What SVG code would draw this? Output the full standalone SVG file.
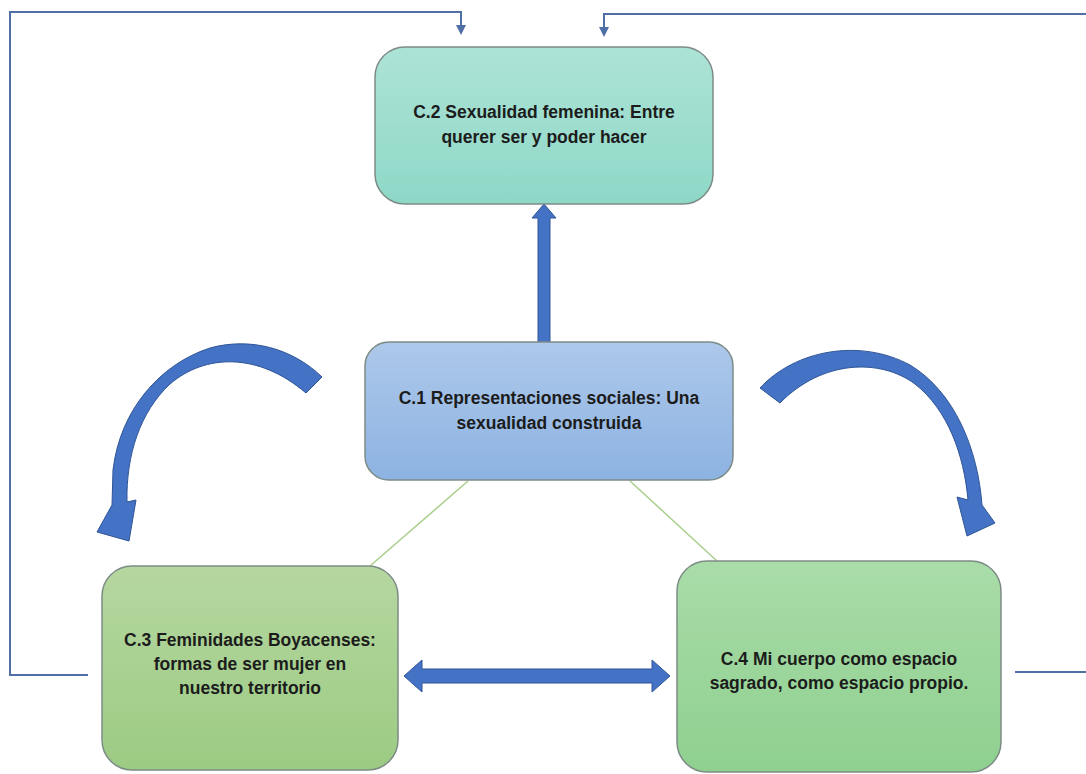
<svg xmlns="http://www.w3.org/2000/svg" width="1086" height="774" viewBox="0 0 1086 774">
  <style>
    .box { stroke: #7d8b86; stroke-width: 1.5; }
    .lbl { font-family: "Liberation Sans", Arial, sans-serif; font-weight: bold; font-size: 17.5px; fill: #1c1c1c; text-anchor: middle; }
    .loop { fill: none; stroke: #4f6fa6; stroke-width: 2; }
    .green { fill: none; stroke: #a9cf8c; stroke-width: 1.5; }
    .blue { fill: #4472c4; stroke: #2f5597; stroke-width: 1; }
  </style>
  <defs>
    <linearGradient id="gTeal" x1="0" y1="0" x2="0" y2="1">
      <stop offset="0" stop-color="#ade3d7"/>
      <stop offset="1" stop-color="#8ed8c7"/>
    </linearGradient>
    <linearGradient id="gBlue" x1="0" y1="0" x2="0" y2="1">
      <stop offset="0" stop-color="#adc8ea"/>
      <stop offset="1" stop-color="#8db3e2"/>
    </linearGradient>
    <linearGradient id="gOlive" x1="0" y1="0" x2="0" y2="1">
      <stop offset="0" stop-color="#b5d7a0"/>
      <stop offset="1" stop-color="#9ccb83"/>
    </linearGradient>
    <linearGradient id="gGreen" x1="0" y1="0" x2="0" y2="1">
      <stop offset="0" stop-color="#a9dca9"/>
      <stop offset="1" stop-color="#8fd08f"/>
    </linearGradient>
    <marker id="ah" markerWidth="10" markerHeight="10" refX="5" refY="5" orient="auto" markerUnits="userSpaceOnUse">
      <path d="M0,0 L10,5 L0,10 Z" fill="#4f6fa6"/>
    </marker>
  </defs>

  <rect width="1086" height="774" fill="#ffffff"/>

  <g id="connectors">
    <polyline class="loop" points="88,675 10,675 10,12 461,12 461,30" marker-end="url(#ah)"/>
    <polyline class="loop" points="1015,672 1088,672"/>
    <polyline class="loop" points="1088,14 604,14 604,32" marker-end="url(#ah)"/>
    <line class="green" x1="468" y1="481" x2="370" y2="566"/>
    <line class="green" x1="630" y1="481" x2="717" y2="561"/>
    <path class="blue" d="M538,343 L538,218 L532,218 L544,204 L556,218 L550,218 L550,343 Z"/>
    <path class="blue" d="M404,676 L422,660 L422,669 L652,669 L652,660 L670,676 L652,692 L652,683 L422,683 L422,692 Z"/>
    <path class="blue" d="M322,377 C292,348 250,337 210,348 C160,364 120,410 113,470 L112,505 L97,532 L129,541 L136,500 L127,502 C126,455 140,412 170,384 C205,354 258,352 306,393 Z"/>
    <path class="blue" d="M760,388 C795,350 860,338 910,365 C955,392 978,450 982,505 L995,523 L967,536 L957,497 L968,500 C964,455 948,410 915,384 C880,358 822,360 780,403 Z"/>
  </g>

  <g id="node-c2">
    <rect class="box" x="375" y="47" width="338" height="157" rx="30" ry="30" fill="url(#gTeal)"/>
    <text class="lbl" x="544" y="118">C.2 Sexualidad femenina: Entre</text>
    <text class="lbl" x="544" y="143">querer ser y poder hacer</text>
  </g>

  <g id="node-c1">
    <rect class="box" x="365" y="342" width="368" height="138" rx="24" ry="24" fill="url(#gBlue)"/>
    <text class="lbl" x="549" y="404">C.1 Representaciones sociales: Una</text>
    <text class="lbl" x="549" y="429">sexualidad construida</text>
  </g>

  <g id="node-c3">
    <rect class="box" x="102" y="566" width="296" height="204" rx="30" ry="30" fill="url(#gOlive)"/>
    <text class="lbl" x="250" y="646">C.3 Feminidades Boyacenses:</text>
    <text class="lbl" x="250" y="670">formas de ser mujer en</text>
    <text class="lbl" x="250" y="694">nuestro territorio</text>
  </g>

  <g id="node-c4">
    <rect class="box" x="677" y="561" width="324" height="211" rx="30" ry="30" fill="url(#gGreen)"/>
    <text class="lbl" x="839" y="665">C.4 Mi cuerpo como espacio</text>
    <text class="lbl" x="839" y="689">sagrado, como espacio propio.</text>
  </g>
</svg>
